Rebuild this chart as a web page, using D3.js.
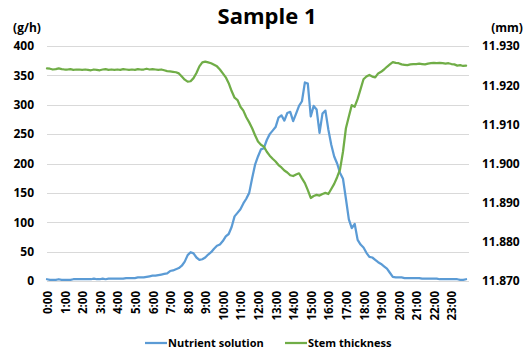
<!DOCTYPE html>
<html>
<head>
<meta charset="utf-8">
<script src="https://cdn.jsdelivr.net/npm/d3@7"></script>
<style>
  body { margin: 0; background: #fff; }
  text { font-family: "Open Sans", sans-serif; font-weight: bold; fill: #000; }
</style>
</head>
<body>
<svg></svg>
<script>
// one reading every 10 minutes, 0:00 .. 23:50
const STEP_MIN = 10;

const hourLabels = ['0:00','1:00','2:00','3:00','4:00','5:00','6:00','7:00','8:00','9:00','10:00','11:00',
  '12:00','13:00','14:00','15:00','16:00','17:00','18:00','19:00','20:00','21:00','22:00','23:00'];

// g/h, left axis
const nutrient = [
  3, 2, 2, 2, 3, 2,
  2, 2, 2, 3, 3, 3,
  3, 3, 3, 3, 4, 3,
  3, 4, 3, 4, 4, 4,
  4, 4, 4, 5, 5, 5,
  5, 6, 6, 6, 7, 8,
  9, 9, 10, 11, 12, 13,
  17, 18, 20, 22, 26, 33,
  44, 49, 47, 40, 36, 37,
  40, 45, 49, 55, 60, 62,
  68, 76, 80, 92, 110, 116,
  122, 132, 140, 150, 175, 198,
  212, 224, 226, 240, 250, 256,
  262, 278, 282, 273, 286, 288,
  272, 285, 298, 306, 338, 336,
  280, 298, 292, 252, 285, 290,
  258, 232, 212, 200, 184, 174,
  140, 105, 90, 97, 70, 62,
  57, 48, 41, 40, 36, 32,
  29, 25, 21, 14, 7, 6,
  6, 6, 5, 5, 5, 5,
  5, 5, 4, 4, 4, 4,
  4, 4, 3, 3, 3, 3,
  3, 3, 3, 2, 2, 3
];

// mm, right axis
const stem = [
  11.9243, 11.9242, 11.9240, 11.9241, 11.9243, 11.9241,
  11.9240, 11.9240, 11.9241, 11.9239, 11.9240, 11.9240,
  11.9239, 11.9240, 11.9239, 11.9238, 11.9240, 11.9239,
  11.9238, 11.9240, 11.9241, 11.9239, 11.9240, 11.9239,
  11.9240, 11.9239, 11.9241, 11.9240, 11.9239, 11.9240,
  11.9239, 11.9241, 11.9240, 11.9240, 11.9242, 11.9240,
  11.9241, 11.9240, 11.9239, 11.9240, 11.9238, 11.9236,
  11.9235, 11.9234, 11.9233, 11.9230, 11.9222, 11.9214,
  11.9209, 11.9210, 11.9218, 11.9231, 11.9248, 11.9258,
  11.9260, 11.9258, 11.9256, 11.9252, 11.9248, 11.9240,
  11.9230, 11.9220, 11.9205, 11.9185, 11.9168, 11.9162,
  11.9145, 11.9135, 11.9118, 11.9105, 11.9090, 11.9072,
  11.9056, 11.9048, 11.9043, 11.9030, 11.9020, 11.9012,
  11.9005, 11.8996, 11.8990, 11.8982, 11.8977, 11.8970,
  11.8968, 11.8972, 11.8975, 11.8962, 11.8950, 11.8932,
  11.8912, 11.8917, 11.8920, 11.8918, 11.8922, 11.8925,
  11.8922, 11.8935, 11.8948, 11.8965, 11.8985, 11.9030,
  11.9090, 11.9120, 11.9149, 11.9145, 11.9165, 11.9190,
  11.9215, 11.9222, 11.9226, 11.9222, 11.9220, 11.9230,
  11.9234, 11.9240, 11.9247, 11.9253, 11.9259, 11.9257,
  11.9256, 11.9253, 11.9252, 11.9251, 11.9253, 11.9254,
  11.9254, 11.9255, 11.9254, 11.9253, 11.9255, 11.9256,
  11.9257, 11.9256, 11.9257, 11.9256, 11.9255, 11.9256,
  11.9254, 11.9253, 11.9250, 11.9251, 11.9249, 11.9250
];

const leftTicks = [0, 50, 100, 150, 200, 250, 300, 350, 400];
const rightTicks = [11.870, 11.880, 11.890, 11.900, 11.910, 11.920, 11.930];
const seriesNames = ['Nutrient solution', 'Stem thickness'];
const colors = ['#5B9BD5', '#70AD47'];

const W = 529, H = 353;
const margin = { top: 46, right: 60, bottom: 72, left: 47 };

const svg = d3.select('svg').attr('width', W).attr('height', H);

const x = d3.scaleLinear().domain([0, 1440]).range([margin.left, W - margin.right]);
const yL = d3.scaleLinear().domain([0, 400]).range([H - margin.bottom, margin.top]);
const yR = d3.scaleLinear().domain([11.870, 11.930]).range([H - margin.bottom, margin.top]);

// gridlines
svg.append('g')
  .selectAll('line')
  .data(leftTicks)
  .join('line')
  .attr('x1', x.range()[0]).attr('x2', x.range()[1])
  .attr('y1', d => Math.round(yL(d)) + 0.5).attr('y2', d => Math.round(yL(d)) + 0.5)
  .attr('stroke', '#d9d9d9').attr('stroke-width', 1);

// left axis
const axL = svg.append('g')
  .attr('transform', `translate(${margin.left - 13},0)`)
  .call(d3.axisLeft(yL).tickValues(leftTicks).tickSize(0).tickPadding(0));
axL.select('.domain').remove();
axL.selectAll('text').style('font-size', '12px');

// right axis
const axR = svg.append('g')
  .attr('transform', `translate(${W - margin.right + 13},0)`)
  .call(d3.axisRight(yR).tickValues(rightTicks).tickFormat(d3.format('.3f')).tickSize(0).tickPadding(0));
axR.select('.domain').remove();
axR.selectAll('text').style('font-size', '12px');

// x labels, rotated
svg.append('g')
  .selectAll('text')
  .data(hourLabels)
  .join('text')
  .attr('transform', (d, i) => `translate(${x(i * 60) + 1},${H - margin.bottom + 10}) rotate(-90)`)
  .attr('text-anchor', 'end')
  .attr('dy', '0.35em')
  .style('font-size', '11.5px')
  .text(d => d);

// units and title
svg.append('text').attr('x', 27).attr('y', 32).attr('text-anchor', 'middle')
  .style('font-size', '12px').text('(g/h)');
svg.append('text').attr('x', 507).attr('y', 32).attr('text-anchor', 'middle')
  .style('font-size', '12px').text('(mm)');
svg.append('text').attr('x', 267).attr('y', 24).attr('text-anchor', 'middle')
  .style('font-size', '22px').text('Sample 1');

// lines
const minutes = nutrient.map((d, i) => i * STEP_MIN);

const lineL = d3.line().x((d, i) => x(minutes[i])).y(d => yL(d));
const lineR = d3.line().x((d, i) => x(minutes[i])).y(d => yR(d));

svg.append('path').datum(nutrient)
  .attr('d', lineL).attr('fill', 'none')
  .attr('stroke', colors[0]).attr('stroke-width', 2.25)
  .attr('stroke-linejoin', 'round').attr('stroke-linecap', 'round');

svg.append('path').datum(stem)
  .attr('d', lineR).attr('fill', 'none')
  .attr('stroke', colors[1]).attr('stroke-width', 2.25)
  .attr('stroke-linejoin', 'round').attr('stroke-linecap', 'round');

// legend
const legendX = [145, 285];
const legend = svg.append('g')
  .selectAll('g')
  .data(seriesNames)
  .join('g')
  .attr('transform', (d, i) => `translate(${legendX[i]},343)`);
legend.append('line')
  .attr('x1', 0).attr('x2', 22).attr('y1', 0).attr('y2', 0)
  .attr('stroke', (d, i) => colors[i]).attr('stroke-width', 2.25);
legend.append('text')
  .attr('x', 23).attr('dy', '0.35em')
  .style('font-size', '11px')
  .text(d => d);
</script>
</body>
</html>
